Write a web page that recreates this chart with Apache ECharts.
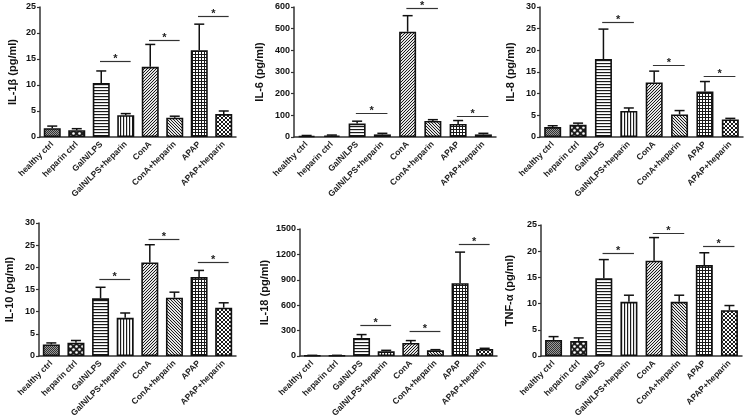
<!DOCTYPE html>
<html><head><meta charset="utf-8">
<script src="https://cdn.jsdelivr.net/npm/echarts@6/dist/echarts.min.js"></script>
<style>html,body{margin:0;padding:0;background:#fff}#c{width:744px;height:420px}</style>
</head><body><div id="c"></div>
<script>
const categories = ['healthy ctrl','heparin ctrl','GalN/LPS','GalN/LPS+heparin','ConA','ConA+heparin','APAP','APAP+heparin'];
const sigPairs = [2, 4, 6];

const il1bMean  = [1.7, 1.3, 10.4, 4.2, 13.5, 3.7, 16.7, 4.4];
const il1bUpper = [2.1, 1.6, 12.7, 4.5, 17.8, 4.0, 21.7, 5.0];
const il1bSig   = [14.7, 18.7, 23.3];

const il6Mean  = [5, 7, 62, 12, 486, 74, 60, 12];
const il6Upper = [7, 9, 73, 17, 560, 80, 76, 17];
const il6Sig   = [111, 595, 99];

const il8Mean  = [2.3, 2.8, 18.0, 6.0, 12.6, 5.2, 10.5, 4.05];
const il8Upper = [2.6, 3.2, 24.9, 6.7, 15.2, 6.1, 12.8, 4.3];
const il8Sig   = [26.5, 16.6, 14.0];

const il10Mean  = [2.6, 3.0, 13.0, 8.6, 21.1, 13.15, 17.8, 10.9];
const il10Upper = [2.95, 3.5, 15.5, 9.7, 25.1, 14.4, 19.3, 12.0];
const il10Sig   = [17.4, 26.4, 21.1];

const il18Mean  = [5, 5, 214, 55, 154, 67, 859, 83];
const il18Upper = [8, 8, 253, 67, 182, 75, 1227, 91];
const il18Sig   = [372, 293, 1326];

const tnfMean  = [3.06, 2.87, 14.86, 10.33, 18.2, 10.33, 17.35, 8.74];
const tnfUpper = [3.7, 3.45, 18.4, 11.6, 22.6, 11.6, 19.7, 9.63];
const tnfSig   = [19.6, 23.5, 21.0];

const yTitles = ['IL-1β (pg/ml)', 'IL-6 (pg/ml)', 'IL-8 (pg/ml)', 'IL-10 (pg/ml)', 'IL-18 (pg/ml)', 'TNF-α (pg/ml)'];
const yMax = [25, 600, 30, 30, 1500, 25];
const yStep = [5, 100, 5, 5, 300, 5];

// ---------- patterns ----------
const DARK = '#1a1a1a';
function tile(w, h, draw) {
  const c = document.createElement('canvas'); c.width = w; c.height = h;
  const g = c.getContext('2d'); g.fillStyle = '#fff'; g.fillRect(0, 0, w, h);
  draw(g); return c;
}
const patterns = [
  tile(2, 2, g => { g.fillStyle = '#9a9a9a'; g.fillRect(0,0,2,2); g.fillStyle = '#333'; g.fillRect(0,0,1,1); g.fillRect(1,1,1,1); }),
  tile(6, 6, g => { g.fillStyle = '#1e1e1e'; g.fillRect(0,0,6,6); g.fillStyle = '#fff';
        g.beginPath(); g.arc(1.5,1.5,1.3,0,Math.PI*2); g.fill(); g.beginPath(); g.arc(4.5,4.5,1.3,0,Math.PI*2); g.fill(); }),
  tile(3, 3, g => { g.fillStyle = DARK; g.fillRect(0,0,3,1); g.fillStyle = '#d8d8d8'; g.fillRect(0,1,3,1); }),
  tile(3, 3, g => { g.fillStyle = DARK; g.fillRect(0,0,1,3); g.fillStyle = '#d8d8d8'; g.fillRect(1,0,1,3); }),
  tile(3, 3, g => { g.fillStyle = '#e4e4e4'; g.fillRect(0,0,3,3); g.fillStyle = DARK; g.fillRect(0,2,1,1); g.fillRect(1,1,1,1); g.fillRect(2,0,1,1); }),
  tile(3, 3, g => { g.fillStyle = '#e4e4e4'; g.fillRect(0,0,3,3); g.fillStyle = DARK; g.fillRect(0,0,1,1); g.fillRect(1,1,1,1); g.fillRect(2,2,1,1); }),
  tile(3, 3, g => { g.fillStyle = DARK; g.fillRect(0,0,3,1); g.fillRect(0,0,1,3); }),
  tile(4, 4, g => { g.fillStyle = DARK; for (let i=0;i<4;i++){ g.fillRect(i,i,1,1); g.fillRect(i,3-i,1,1);} })
];

const panels = [
  {mean: il1bMean, upper: il1bUpper, sig: il1bSig},
  {mean: il6Mean, upper: il6Upper, sig: il6Sig},
  {mean: il8Mean, upper: il8Upper, sig: il8Sig},
  {mean: il10Mean, upper: il10Upper, sig: il10Sig},
  {mean: il18Mean, upper: il18Upper, sig: il18Sig},
  {mean: tnfMean, upper: tnfUpper, sig: tnfSig}
];
const gridBoxes = [
  {left: 40, top: 7, width: 196, height: 130},
  {left: 294, top: 7, width: 202, height: 130},
  {left: 540, top: 7, width: 203, height: 130},
  {left: 39, top: 223, width: 197, height: 133},
  {left: 300, top: 229, width: 197, height: 127},
  {left: 541, top: 225, width: 201, height: 131}
];
const nameGaps = [22, 29, 24, 24, 30, 26];

const FONT = 'Liberation Sans, Arial, sans-serif';
const AX = {lineStyle: {color: '#333', width: 1.5}};

const option = {animation: false, backgroundColor: '#fff', grid: [], xAxis: [], yAxis: [], series: []};

panels.forEach((p, i) => {
  option.grid.push(Object.assign({containLabel: false}, gridBoxes[i]));
  option.xAxis.push({
    type: 'category', gridIndex: i, data: categories,
    axisLine: AX, axisTick: {alignWithLabel: true, length: 3, lineStyle: {color: '#333', width: 1.2}},
    axisLabel: {rotate: 45, fontSize: 8.5, fontWeight: 'bold', color: '#222', fontFamily: FONT, margin: 6, interval: 0},
    splitLine: {show: false}
  });
  option.yAxis.push({
    type: 'value', gridIndex: i, min: 0, max: yMax[i], interval: yStep[i],
    name: yTitles[i], nameLocation: 'middle', nameRotate: 90, nameGap: nameGaps[i],
    nameTextStyle: {fontSize: 11, fontWeight: 'bold', color: '#111', fontFamily: FONT},
    axisLine: {show: true, lineStyle: {color: '#333', width: 1.5}},
    axisTick: {show: true, length: 3, lineStyle: {color: '#333', width: 1.2}},
    axisLabel: {fontSize: 9, fontWeight: 'bold', color: '#111', fontFamily: FONT, margin: 4, formatter: v => String(v)},
    splitLine: {show: false}
  });
  option.series.push({
    type: 'bar', xAxisIndex: i, yAxisIndex: i, barWidth: 17,
    data: p.mean.map((v, k) => ({value: v, itemStyle: {color: {image: patterns[k], repeat: 'repeat'}}})),
    itemStyle: {borderColor: '#111', borderWidth: 1.6},
    z: 2
  });
  option.series.push({
    type: 'custom', xAxisIndex: i, yAxisIndex: i, z: 3,
    data: p.mean.map((v, k) => [k, v, p.upper[k]]),
    encode: {x: 0, y: [1, 2]},
    renderItem: (params, api) => {
      const idx = api.value(0);
      const top = api.coord([idx, api.value(2)]);
      const base = api.coord([idx, api.value(1)]);
      const st = {stroke: '#111', lineWidth: 1.5};
      return {type: 'group', children: [
        {type: 'line', shape: {x1: top[0], y1: base[1], x2: top[0], y2: top[1]}, style: st},
        {type: 'line', shape: {x1: top[0] - 5, y1: top[1], x2: top[0] + 5, y2: top[1]}, style: st}
      ]};
    }
  });
  option.series.push({
    type: 'custom', xAxisIndex: i, yAxisIndex: i, z: 4,
    data: p.sig.map((v, k) => [sigPairs[k], v]),
    encode: {x: 0, y: 1},
    renderItem: (params, api) => {
      const idx = api.value(0);
      const c1 = api.coord([idx, api.value(1)]);
      const c2 = api.coord([idx + 1, api.value(1)]);
      const slot = c2[0] - c1[0];
      const x1 = c1[0] - 0.05 * slot, x2 = c2[0] + 0.2 * slot;
      const y = Math.round(c1[1]) + 0.5;
      return {type: 'group', children: [
        {type: 'line', shape: {x1: x1, y1: y, x2: x2, y2: y}, style: {stroke: '#333', lineWidth: 1.2}},
        {type: 'text', x: (x1 + x2) / 2, y: y + 3, style: {text: '*', fontSize: 11, fontWeight: 'bold', fontFamily: FONT, fill: '#222', align: 'center', verticalAlign: 'bottom'}}
      ]};
    }
  });
});

const chart = echarts.init(document.getElementById('c'), null, {renderer: 'canvas'});
chart.setOption(option);
</script>
</body></html>
